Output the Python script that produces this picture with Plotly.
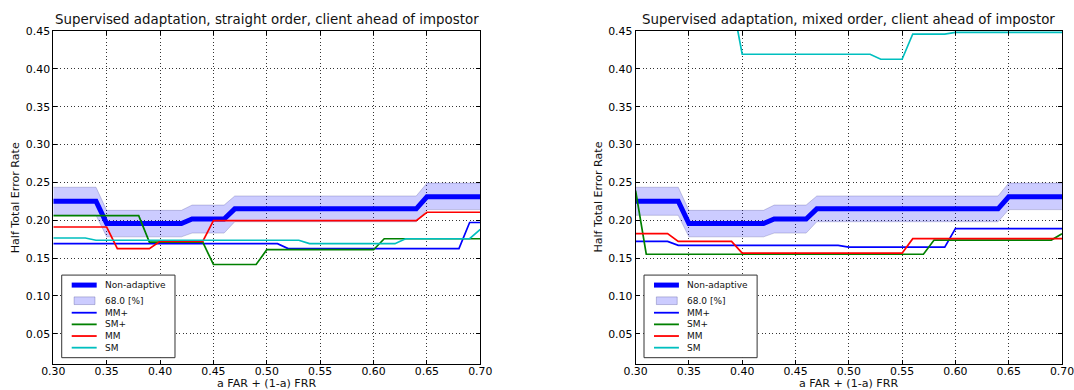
import plotly.graph_objects as go

# ---------------- data ----------------
far_weight = [0.30, 0.31, 0.32, 0.33, 0.34, 0.35, 0.36, 0.37, 0.38, 0.39,
              0.40, 0.41, 0.42, 0.43, 0.44, 0.45, 0.46, 0.47, 0.48, 0.49,
              0.50, 0.51, 0.52, 0.53, 0.54, 0.55, 0.56, 0.57, 0.58, 0.59,
              0.60, 0.61, 0.62, 0.63, 0.64, 0.65, 0.66, 0.67, 0.68, 0.69, 0.70]

non_adaptive = [0.225]*5 + [0.1955]*8 + [0.2015]*4 + [0.215]*18 + [0.231]*6
band_upper = [0.2435]*5 + [0.213]*8 + [0.220]*4 + [0.232]*18 + [0.249]*6
band_lower = [0.2065]*5 + [0.178]*8 + [0.183]*4 + [0.198]*18 + [0.214]*6

# straight order (left panel)
straight_mm_plus = [0.169]*22 + [0.1625]*17 + [0.197]*2
straight_sm_plus = [0.206]*9 + [0.171]*6 + [0.1415]*5 + [0.161]*11 + [0.1755]*10
straight_mm = [0.191]*6 + [0.1625]*4 + [0.172]*5 + [0.1995]*20 + [0.2105]*6
straight_sm = [0.1765]*4 + [0.1735]*20 + [0.169]*9 + [0.1755]*7 + [0.188]

# mixed order (right panel)
mixed_mm_plus = [0.172]*4 + [0.1667]*16 + [0.1645]*10 + [0.1888]*11
mixed_sm_plus = [0.239] + [0.155]*27 + [0.1738]*12 + [0.182]
mixed_mm = [0.1822]*4 + [0.172]*6 + [0.1565]*16 + [0.1756]*15
mixed_sm = [0.494]*10 + [0.4193]*13 + [0.4127]*3 + [0.446]*4 + [0.4483]*11

titles = ["Supervised adaptation, straight order, client ahead of impostor",
          "Supervised adaptation, mixed order, client ahead of impostor"]
x_label = "a FAR + (1-a) FRR"
y_label = "Half Total Error Rate"
x_ticks = [0.30, 0.35, 0.40, 0.45, 0.50, 0.55, 0.60, 0.65, 0.70]
y_ticks = [0.05, 0.10, 0.15, 0.20, 0.25, 0.30, 0.35, 0.40, 0.45]

series_names = ["MM+", "SM+", "MM", "SM"]
series_colors = ["#0000ff", "#008000", "#ff0000", "#00bfbf"]
panels = [
    [straight_mm_plus, straight_sm_plus, straight_mm, straight_sm],
    [mixed_mm_plus, mixed_sm_plus, mixed_mm, mixed_sm],
]

# ---------------- figure ----------------
FONT = "DejaVu Sans"
fig = go.Figure()

for p, series in enumerate(panels):
    xa = "x" if p == 0 else "x2"
    ya = "y" if p == 0 else "y2"
    fig.add_trace(go.Scatter(x=far_weight, y=band_lower, xaxis=xa, yaxis=ya,
                             mode="lines", line=dict(color="rgba(60,60,140,0.25)", width=1),
                             showlegend=False, hoverinfo="skip"))
    fig.add_trace(go.Scatter(x=far_weight, y=band_upper, xaxis=xa, yaxis=ya,
                             mode="lines", line=dict(color="rgba(60,60,140,0.25)", width=1),
                             fill="tonexty", fillcolor="rgba(0,0,255,0.2)",
                             showlegend=False, name="68.0 [%]"))
    fig.add_trace(go.Scatter(x=far_weight, y=non_adaptive, xaxis=xa, yaxis=ya,
                             mode="lines", line=dict(color="#0000ff", width=5),
                             showlegend=False, name="Non-adaptive"))
    for vals, nm, col in zip(series, series_names, series_colors):
        fig.add_trace(go.Scatter(x=far_weight, y=vals, xaxis=xa, yaxis=ya,
                                 mode="lines", line=dict(color=col, width=1.7),
                                 showlegend=False, name=nm))

W, H = 1074, 390
x_domains = [[53.3 / W, 480.3 / W], [635.6 / W, 1062.0 / W]]
y_domain = [1 - 364 / H, 1 - 31 / H]

axis_common = dict(ticks="inside", ticklen=4, tickcolor="black", tickwidth=1,
                   showline=True, linecolor="black", linewidth=1, mirror="ticks",
                   showgrid=True, gridcolor="rgba(0,0,0,0.8)", griddash="1px,2.5px", gridwidth=1,
                   zeroline=False, tickformat=".2f", automargin=False,
                   ticklabeloverflow="allow",
                   tickfont=dict(family=FONT, size=10.9, color="black"))

layout = dict(width=W, height=H, margin=dict(l=0, r=0, t=0, b=0),
              paper_bgcolor="white", plot_bgcolor="white",
              font=dict(family=FONT, color="black"), showlegend=False)
for p in range(2):
    sx = "" if p == 0 else "2"
    layout["xaxis" + sx] = dict(domain=x_domains[p], range=[0.30, 0.70], tickvals=x_ticks,
                                anchor="y" + sx, ticklabelstandoff=-3, **axis_common)
    layout["yaxis" + sx] = dict(domain=y_domain, range=[0.01, 0.45], tickvals=y_ticks,
                                anchor="x" + sx, **axis_common)
fig.update_layout(**layout)

annotations = []
shapes = []
legend_labels = ["Non-adaptive", "68.0 [%]"] + series_names
legend_rows = [0.237, 0.190, 0.154, 0.119, 0.084, 0.049]
for p in range(2):
    sx = "" if p == 0 else "2"
    cx = (x_domains[p][0] + x_domains[p][1]) / 2
    annotations.append(dict(text=titles[p], x=cx, y=1 - 19.5 / H, xref="paper", yref="paper",
                            xanchor="center", yanchor="middle", showarrow=False,
                            font=dict(family=FONT, size=13.4, color="#111")))
    annotations.append(dict(text=x_label, x=cx, y=1 - 383 / H, xref="paper", yref="paper",
                            xanchor="center", yanchor="middle", showarrow=False,
                            font=dict(family=FONT, size=11.1, color="#111")))
    annotations.append(dict(text=y_label, x=(x_domains[p][0] * W - 37.5) / W,
                            y=(y_domain[0] + y_domain[1]) / 2, xref="paper", yref="paper",
                            xanchor="center", yanchor="middle", textangle=-90, showarrow=False,
                            font=dict(family=FONT, size=11.1, color="#111")))
    xr, yr = "x" + sx + " domain", "y" + sx + " domain"
    # legend frame
    shapes.append(dict(type="rect", xref=xr, yref=yr, x0=0.0197, x1=0.285, y0=0.019, y1=0.267,
                       line=dict(color="#333", width=1), fillcolor="white", layer="above"))
    # legend keys
    shapes.append(dict(type="line", xref=xr, yref=yr, x0=0.0431, x1=0.1016,
                       y0=legend_rows[0], y1=legend_rows[0],
                       line=dict(color="#0000ff", width=5), layer="above"))
    shapes.append(dict(type="rect", xref=xr, yref=yr, x0=0.0487, x1=0.0976,
                       y0=legend_rows[1] - 0.0115, y1=legend_rows[1] + 0.0115,
                       line=dict(color="rgba(60,60,140,0.3)", width=1),
                       fillcolor="rgba(0,0,255,0.2)", layer="above"))
    for i, col in enumerate(series_colors):
        yy = legend_rows[2 + i]
        shapes.append(dict(type="line", xref=xr, yref=yr, x0=0.0431, x1=0.1016, y0=yy, y1=yy,
                           line=dict(color=col, width=1.8), layer="above"))
    for lab, yy in zip(legend_labels, legend_rows):
        annotations.append(dict(text=lab, x=0.117, y=yy, xref=xr, yref=yr,
                                xanchor="left", yanchor="middle", showarrow=False,
                                font=dict(family=FONT, size=9, color="#111")))

fig.update_layout(annotations=annotations, shapes=shapes)
fig.write_html("out.html")
